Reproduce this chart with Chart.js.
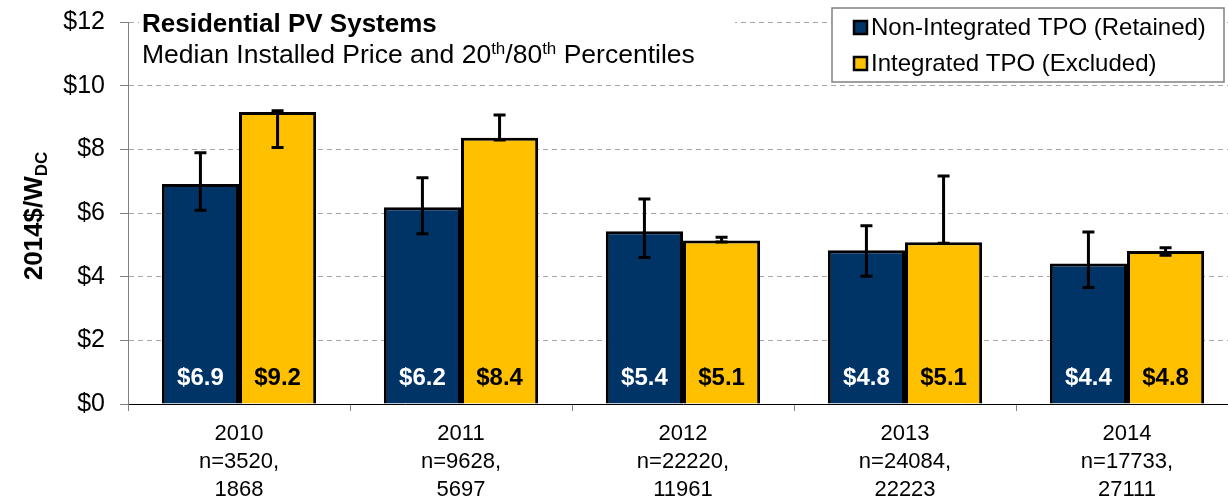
<!DOCTYPE html>
<html><head><meta charset="utf-8">
<script src="https://cdn.jsdelivr.net/npm/chart.js@4/dist/chart.umd.min.js"></script>
<style>html,body{margin:0;padding:0;overflow:hidden;background:#fff}#wrap{width:1240px;height:497px;position:relative}</style>
</head><body><div id="wrap"><canvas id="c" width="1240" height="497"></canvas></div>
<script>
const categories = ['2010', '2011', '2012', '2013', '2014'];
const sampleLines = [['n=3520,', '1868'], ['n=9628,', '5697'], ['n=22220,', '11961'], ['n=24084,', '22223'], ['n=17733,', '27111']];
const seriesNames = ['Non-Integrated TPO (Retained)', 'Integrated TPO (Excluded)'];
const nonIntegrated = [6.91, 6.18, 5.43, 4.83, 4.41];
const integrated = [9.17, 8.36, 5.14, 5.08, 4.81];
const nonIntegratedP20 = [6.09, 5.35, 4.60, 4.01, 3.66];
const nonIntegratedP80 = [7.89, 7.11, 6.44, 5.60, 5.40];
const integratedP20 = [8.06, 8.29, 5.09, 5.05, 4.67];
const integratedP80 = [9.21, 9.08, 5.24, 7.16, 4.91];
const yTicks = [0, 2, 4, 6, 8, 10, 12];

const FONT = "'Liberation Sans', Arial, sans-serif";
const BLUE = '#003366';
const YELLOW = '#FFC000';

const labels = categories.map((c, i) => [c].concat(sampleLines[i]));
const lows = [nonIntegratedP20, integratedP20];
const highs = [nonIntegratedP80, integratedP80];

const overlay = {
  id: 'overlay',
  afterDatasetsDraw(chart) {
    const ctx = chart.ctx;
    const y = chart.scales.y;
    ctx.save();
    chart.data.datasets.forEach((ds, di) => {
      const meta = chart.getDatasetMeta(di);
      meta.data.forEach((bar, i) => {
        const yl = y.getPixelForValue(lows[di][i]);
        const yh = y.getPixelForValue(highs[di][i]);
        ctx.strokeStyle = '#000';
        ctx.lineWidth = 3;
        ctx.lineCap = 'butt';
        ctx.beginPath();
        ctx.moveTo(bar.x, yl); ctx.lineTo(bar.x, yh);
        ctx.moveTo(bar.x - 6, yl); ctx.lineTo(bar.x + 6, yl);
        ctx.moveTo(bar.x - 6, yh); ctx.lineTo(bar.x + 6, yh);
        ctx.stroke();
        ctx.font = 'bold 24px ' + FONT;
        ctx.fillStyle = di === 0 ? '#fff' : '#000';
        ctx.textAlign = 'center';
        ctx.textBaseline = 'middle';
        ctx.fillText('$' + ds.data[i].toFixed(1), bar.x, y.getPixelForValue(0) - 26);
      });
    });
    ctx.restore();
  },
  afterDraw(chart) {
    const ctx = chart.ctx;
    ctx.save();
    ctx.fillStyle = '#fff';
    ctx.fillRect(139, 8, 596, 64);
    ctx.fillStyle = '#000';
    ctx.textAlign = 'left';
    ctx.textBaseline = 'alphabetic';
    ctx.font = 'bold 26px ' + FONT;
    ctx.fillText('Residential PV Systems', 142, 32);
    let x = 142; const by = 63;
    const parts = [['Median Installed Price and 20', false], ['th', true], ['/80', false], ['th', true], [' Percentiles', false]];
    parts.forEach(([t, sup]) => {
      ctx.font = (sup ? '17px ' : '26.5px ') + FONT;
      ctx.fillText(t, x, sup ? by - 9 : by);
      x += ctx.measureText(t).width;
    });
    // legend
    const lx = 832, ly = 8, lw = 392, lh = 74;
    ctx.fillStyle = '#fff';
    ctx.fillRect(lx, ly, lw, lh);
    ctx.strokeStyle = '#808080';
    ctx.lineWidth = 1.5;
    ctx.strokeRect(lx, ly, lw, lh);
    chart.data.datasets.forEach((ds, di) => {
      const cy = 27 + di * 36;
      ctx.fillStyle = ds.backgroundColor;
      ctx.fillRect(854, cy - 6, 13, 13);
      ctx.strokeStyle = '#000';
      ctx.lineWidth = 2.5;
      ctx.strokeRect(854, cy - 6, 13, 13);
      ctx.fillStyle = '#000';
      ctx.font = '24px ' + FONT;
      ctx.textBaseline = 'middle';
      ctx.fillText(ds.label, 871, cy + 1);
    });
    // y axis title with subscript
    ctx.translate(42, 216);
    ctx.rotate(-Math.PI / 2);
    ctx.textBaseline = 'alphabetic';
    const main = '2014$/W';
    ctx.font = 'bold 26px ' + FONT;
    const w1 = ctx.measureText(main).width;
    ctx.font = 'bold 17px ' + FONT;
    const w2 = ctx.measureText('DC').width;
    const sx = -(w1 + w2) / 2;
    ctx.fillStyle = '#000';
    ctx.font = 'bold 26px ' + FONT;
    ctx.fillText(main, sx, 0);
    ctx.font = 'bold 17px ' + FONT;
    ctx.fillText('DC', sx + w1, 5);
    ctx.restore();
  }
};

new Chart(document.getElementById('c'), {
  type: 'bar',
  data: {
    labels: labels,
    datasets: [
      { label: seriesNames[0], data: nonIntegrated, backgroundColor: BLUE, borderColor: '#000', borderWidth: 3, categoryPercentage: 0.695, barPercentage: 1.0 },
      { label: seriesNames[1], data: integrated, backgroundColor: YELLOW, borderColor: '#000', borderWidth: 3, categoryPercentage: 0.695, barPercentage: 1.0 }
    ]
  },
  options: {
    responsive: false,
    animation: false,
    devicePixelRatio: 1,
    layout: { padding: { left: 0, right: 2, top: 22, bottom: 0 } },
    plugins: { legend: { display: false }, tooltip: { enabled: false } },
    scales: {
      x: {
        grid: { display: true, drawOnChartArea: false, drawTicks: true, tickLength: 7, color: '#808080', lineWidth: 1 },
        border: { display: true, color: '#000', width: 1 },
        ticks: { color: '#000', font: { family: FONT, size: 22, lineHeight: 1.28 }, padding: 9, maxRotation: 0, autoSkip: false },
        afterFit(s) { s.height = 93; }
      },
      y: {
        min: 0, max: 12,
        afterBuildTicks(s) { s.ticks = yTicks.map(v => ({ value: v })); },
        grid: { color: '#a6a6a6', lineWidth: 1, drawTicks: true, tickLength: 8, tickColor: '#808080', tickBorderDash: [] },
        border: { display: true, color: '#808080', width: 1, dash: [5, 4] },
        ticks: { color: '#000', font: { family: FONT, size: 25, lineHeight: 0.5 }, padding: 15, callback: v => '$' + v },
        afterFit(s) { s.width = 128; }
      }
    }
  },
  plugins: [overlay]
});
</script>
</body></html>
